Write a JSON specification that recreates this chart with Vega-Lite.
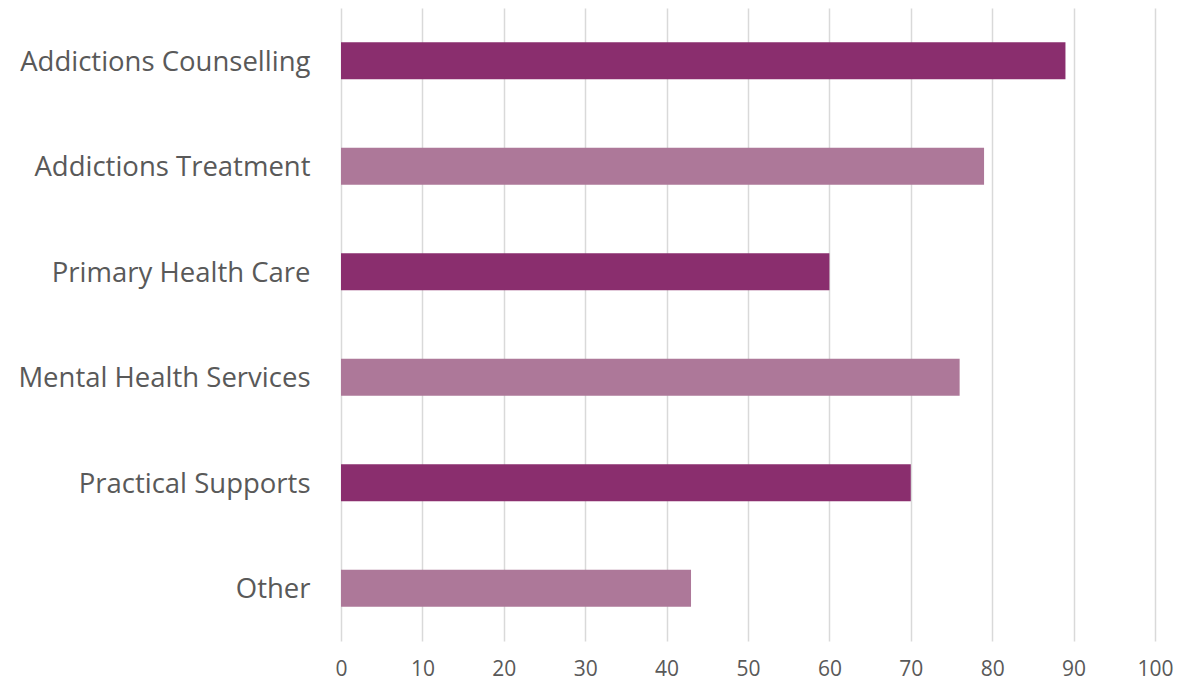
{
  "$schema": "https://vega.github.io/schema/vega-lite/v6.json",
  "width": 814,
  "height": 633,
  "autosize": {"type": "none"},
  "padding": {"left": 341, "top": 8, "right": 23, "bottom": 43},
  "background": "white",
  "config": {"view": {"stroke": null}, "font": "Open Sans"},
  "data": {
    "values": [
      {"category": "Addictions Counselling", "value": 89, "shade": "dark"},
      {"category": "Addictions Treatment", "value": 79, "shade": "light"},
      {"category": "Primary Health Care", "value": 60, "shade": "dark"},
      {"category": "Mental Health Services", "value": 76, "shade": "light"},
      {"category": "Practical Supports", "value": 70, "shade": "dark"},
      {"category": "Other", "value": 43, "shade": "light"}
    ]
  },
  "mark": {"type": "bar"},
  "encoding": {
    "y": {
      "field": "category",
      "type": "nominal",
      "sort": null,
      "scale": {"paddingInner": 0.65, "paddingOuter": 0.325},
      "axis": {
        "title": null,
        "domain": false,
        "ticks": false,
        "labelFontSize": 27.5,
        "labelLimit": 0,
        "labelOffset": 2,
        "labelColor": "#595959",
        "labelPadding": 31,
        "labelFont": "Open Sans"
      }
    },
    "x": {
      "field": "value",
      "type": "quantitative",
      "scale": {"domain": [0, 100], "nice": false},
      "axis": {
        "title": null,
        "values": [0, 10, 20, 30, 40, 50, 60, 70, 80, 90, 100],
        "domain": false,
        "ticks": false,
        "grid": true,
        "gridColor": "#D9D9D9",
        "gridWidth": 1.5,
        "labelFlush": false,
        "labelOverlap": false,
        "labelFontSize": 21,
        "labelColor": "#595959",
        "labelPadding": 17,
        "labelFont": "Open Sans"
      }
    },
    "color": {
      "field": "shade",
      "type": "nominal",
      "scale": {"domain": ["dark", "light"], "range": ["#8A2E6E", "#AD7899"]},
      "legend": null
    }
  }
}
